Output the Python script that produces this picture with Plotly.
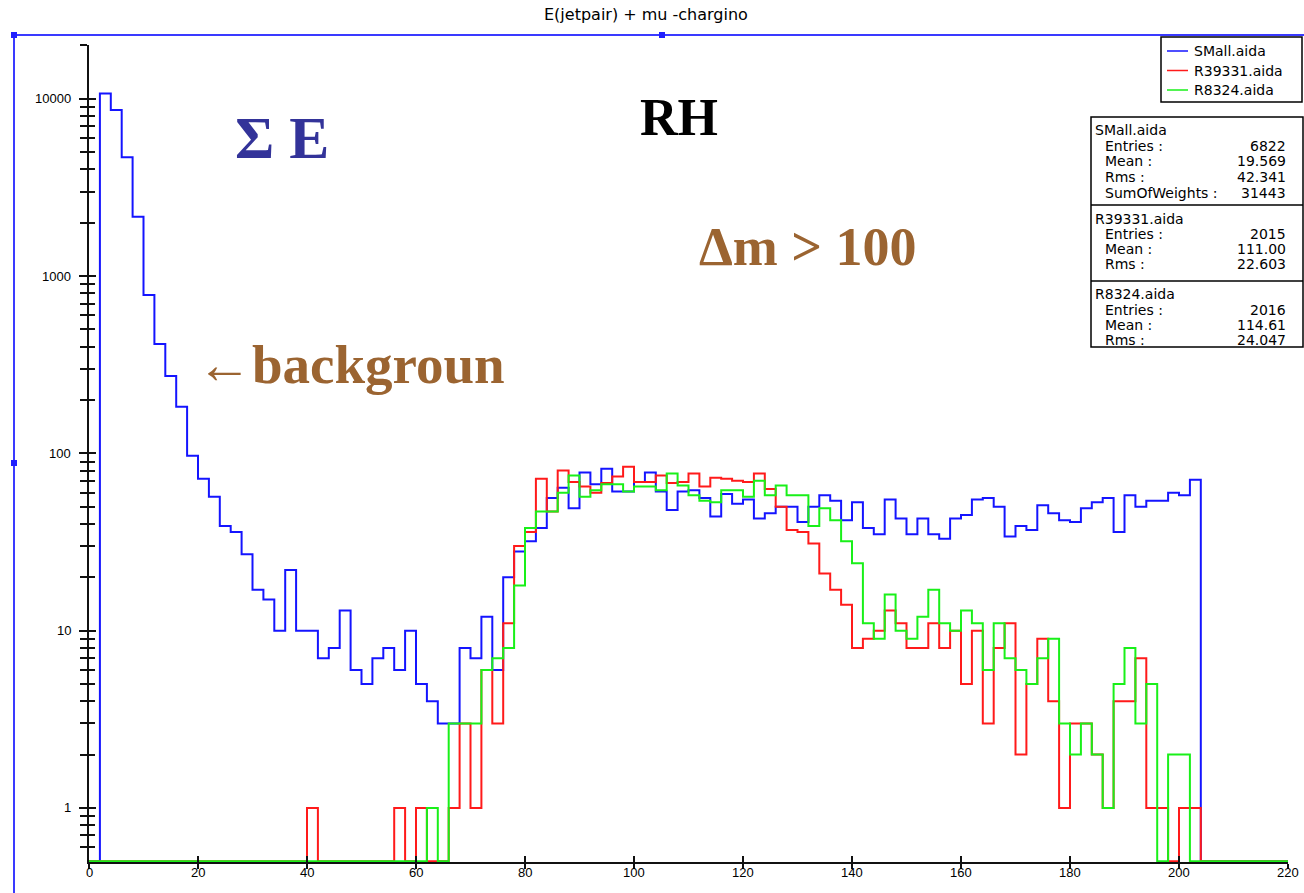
import numpy as np
import plotly.graph_objects as go

# ---- histogram contents: 2-unit bins from 0 to 220 ----
bin_edges = list(range(0, 222, 2))

small_aida = [
    0, 10700, 8650, 4680, 2160, 782, 414, 273, 183, 97,
    72, 57, 39, 36, 27, 17, 15, 10, 22, 10,
    10, 7, 8, 13, 6, 5, 7, 8, 6, 10,
    5, 4, 3, 3, 8, 7, 12, 6, 20, 28,
    32, 38, 56, 64, 49, 78, 67, 82, 61, 61,
    69, 78, 61, 48, 61, 62, 56, 44, 59, 52,
    55, 43, 46, 50, 50, 41, 50, 58, 54, 42,
    53, 38, 35, 55, 43, 35, 43, 35, 33, 43,
    45, 55, 56, 50, 34, 39, 37, 51, 46, 42,
    41, 49, 53, 56, 36, 58, 50, 54, 54, 60,
    58, 71, 0, 0, 0, 0, 0, 0, 0, 0,
]

r39331_aida = [
    0, 0, 0, 0, 0, 0, 0, 0, 0, 0,
    0, 0, 0, 0, 0, 0, 0, 0, 0, 0,
    1, 0, 0, 0, 0, 0, 0, 0, 1, 0,
    1, 0, 0, 1, 3, 1, 6, 3, 11, 30,
    36, 72, 47, 80, 69, 65, 60, 68, 74, 84,
    69, 69, 75, 68, 69, 77, 65, 73, 72, 70,
    69, 77, 63, 50, 37, 36, 31, 21, 17, 14,
    8, 9, 10, 13, 11, 8, 8, 11, 8, 10,
    5, 10, 3, 8, 11, 2, 5, 9, 4, 1,
    3, 3, 2, 1, 4, 4, 7, 1, 1, 0,
    1, 1, 0, 0, 0, 0, 0, 0, 0, 0,
]

r8324_aida = [
    0, 0, 0, 0, 0, 0, 0, 0, 0, 0,
    0, 0, 0, 0, 0, 0, 0, 0, 0, 0,
    0, 0, 0, 0, 0, 0, 0, 0, 0, 0,
    0, 1, 0, 3, 3, 3, 6, 7, 8, 18,
    38, 47, 47, 60, 75, 57, 62, 67, 67, 61,
    65, 65, 62, 77, 66, 58, 54, 53, 62, 62,
    57, 70, 58, 66, 58, 58, 39, 49, 42, 32,
    24, 11, 9, 16, 10, 9, 12, 17, 11, 10,
    13, 11, 6, 11, 7, 6, 5, 7, 9, 3,
    2, 3, 2, 1, 5, 8, 3, 5, 0, 2,
    2, 0, 0, 0, 0, 0, 0, 0, 0, 0,
]

series_names = ["SMall.aida", "R39331.aida", "R8324.aida"]
series_colors = ["#1414ff", "#ff1a1a", "#19f019"]

x_ticks = list(range(0, 221, 20))
x_tick_text = [str(v) for v in x_ticks]
y_ticks = [1, 10, 100, 1000, 10000]
y_tick_text = ["1", "10", "100", "1000", "10000"]
y_minor = [m * 10 ** d for d in range(0, 5) for m in range(2, 10)] + [0.6, 0.7, 0.8, 0.9]

stats_rows = [
    ("SMall.aida", [("Entries :", "6822"), ("Mean :", "19.569"),
                    ("Rms :", "42.341"), ("SumOfWeights :", "31443")]),
    ("R39331.aida", [("Entries :", "2015"), ("Mean :", "111.00"),
                     ("Rms :", "22.603")]),
    ("R8324.aida", [("Entries :", "2016"), ("Mean :", "114.61"),
                    ("Rms :", "24.047")]),
]

# empty bins are drawn along the bottom of the log axis
Y_FLOOR = 0.5
Y_RANGE = [-0.3046, 4.3034]
X_RANGE = [0, 220]

# page geometry (pixels)
FIG_W, FIG_H = 1304, 893
M_L, M_R, M_T, M_B = 89, 16, 45, 31
PLOT_W = FIG_W - M_L - M_R
PLOT_H = FIG_H - M_T - M_B


def px(x):
    return (x - M_L) / PLOT_W


def py(y):
    return (FIG_H - M_B - y) / PLOT_H


def step_values(vals):
    v = np.asarray(vals, dtype=float)
    v = np.where(v > 0, v, Y_FLOOR)
    return np.append(v, v[-1])


fig = go.Figure()
for name, vals, col in zip(series_names, [small_aida, r39331_aida, r8324_aida], series_colors):
    fig.add_trace(go.Scatter(
        x=bin_edges, y=step_values(vals), name=name, mode="lines",
        line=dict(shape="hv", color=col, width=2), showlegend=False,
        hoverinfo="skip",
    ))

# carrier trace for the overlaid inner-tick axes
fig.add_trace(go.Scatter(x=[None], y=[None], xaxis="x2", yaxis="y2",
                         showlegend=False, hoverinfo="skip"))

axis_col = "#111111"
ui_font = "DejaVu Sans, Verdana, sans-serif"
tick_font = dict(family="Liberation Sans, Arial, sans-serif", size=13, color="black")
blank = dict(showline=False, showgrid=False, zeroline=False, automargin=False)

fig.update_layout(
    width=FIG_W, height=FIG_H,
    margin=dict(l=M_L, r=M_R, t=M_T, b=M_B, autoexpand=False),
    paper_bgcolor="white", plot_bgcolor="white",
    font=dict(family="Liberation Sans, Arial, sans-serif", size=12, color="black"),
    showlegend=False,
    # main axes: lines plus outward ticks
    xaxis=dict(range=X_RANGE, tickmode="array", tickvals=x_ticks, automargin=False,
               ticks="outside", ticklen=5, tickwidth=2, tickcolor=axis_col,
               showticklabels=False,
               showline=True, linewidth=2, linecolor=axis_col,
               showgrid=False, zeroline=False, layer="below traces"),
    yaxis=dict(type="log", range=Y_RANGE, tickmode="array", tickvals=y_ticks,
               ticks="outside", ticklen=8, tickwidth=2, automargin=False,
               showticklabels=False,
               tickcolor=axis_col, showline=True, linewidth=2, linecolor=axis_col,
               showgrid=False, zeroline=False, layer="below traces",
               minor=dict(tickmode="array", tickvals=y_minor, ticks="outside",
                          ticklen=7, tickwidth=2, tickcolor=axis_col, showgrid=False)),
    # inward halves of the crossing ticks
    xaxis2=dict(range=X_RANGE, overlaying="x", anchor="y2", side="bottom",
                tickmode="array", tickvals=x_ticks, ticks="inside", ticklen=6,
                tickwidth=2, tickcolor=axis_col, showticklabels=False, **blank),
    yaxis2=dict(type="log", range=Y_RANGE, overlaying="y", anchor="x2", side="left",
                tickmode="array", tickvals=y_ticks, ticks="inside", ticklen=7,
                tickwidth=2, tickcolor=axis_col, showticklabels=False,
                minor=dict(tickmode="array", tickvals=y_minor, ticks="inside",
                           ticklen=6, tickwidth=2, tickcolor=axis_col, showgrid=False),
                **blank),
)

shapes = []
annotations = []

# tick labels placed on the axis scales
for v, t in zip(x_ticks, x_tick_text):
    annotations.append(dict(text=t, xref="x", yref="paper", x=v, y=py(872),
                            xanchor="center", yanchor="middle", showarrow=False,
                            font=tick_font))
for v, t in zip(y_ticks, y_tick_text):
    annotations.append(dict(text=t, xref="paper", yref="y", x=px(73), y=np.log10(v),
                            xanchor="right", yanchor="middle", showarrow=False,
                            font=tick_font))

# selection frame around the region
frame_col = "#3a3aff"
shapes.append(dict(type="line", xref="paper", yref="paper", x0=px(14), x1=px(1304),
                   y0=py(35), y1=py(35), line=dict(color=frame_col, width=2)))
shapes.append(dict(type="line", xref="paper", yref="paper", x0=px(14), x1=px(14),
                   y0=py(35), y1=py(893), line=dict(color=frame_col, width=2)))
for hx, hy in [(14, 35), (662, 35), (14, 463)]:
    shapes.append(dict(type="rect", xref="paper", yref="paper",
                       x0=px(hx - 3), x1=px(hx + 3), y0=py(hy - 3), y1=py(hy + 3),
                       fillcolor="#2020ff", line=dict(width=0)))

# title
annotations.append(dict(text="E(jetpair) + mu -chargino", xref="paper", yref="paper",
                        x=px(646), y=py(15), xanchor="center", yanchor="middle",
                        showarrow=False, font=dict(family=ui_font, size=16)))

# legend box
shapes.append(dict(type="rect", xref="paper", yref="paper", x0=px(1161), x1=px(1302),
                   y0=py(37), y1=py(102), line=dict(color="black", width=1.5),
                   fillcolor="white"))
for i, (name, col) in enumerate(zip(series_names, series_colors)):
    yy = 51 + 19.5 * i
    shapes.append(dict(type="line", xref="paper", yref="paper", x0=px(1167), x1=px(1188),
                       y0=py(yy), y1=py(yy), line=dict(color=col, width=1.5)))
    annotations.append(dict(text=name, xref="paper", yref="paper", x=px(1192), y=py(yy),
                            xanchor="left", yanchor="middle", showarrow=False,
                            font=dict(family=ui_font, size=14)))

# statistics box
box_top, box_bot = 117, 347
shapes.append(dict(type="rect", xref="paper", yref="paper", x0=px(1091), x1=px(1303),
                   y0=py(box_top), y1=py(box_bot), line=dict(color="black", width=1.5),
                   fillcolor="white"))
for sep in [205, 281]:
    shapes.append(dict(type="line", xref="paper", yref="paper", x0=px(1091), x1=px(1303),
                       y0=py(sep), y1=py(sep), line=dict(color="black", width=1.5)))
row_y = {0: [130, 146, 161, 177, 193], 1: [219, 234, 249, 264], 2: [294, 310, 325, 340]}
for bi, (header, rows) in enumerate(stats_rows):
    ys = row_y[bi]
    annotations.append(dict(text=header, xref="paper", yref="paper", x=px(1093), y=py(ys[0]),
                            xanchor="left", yanchor="middle", showarrow=False,
                            font=dict(family=ui_font, size=14)))
    for (lab, val), yy in zip(rows, ys[1:]):
        annotations.append(dict(text=lab, xref="paper", yref="paper", x=px(1103), y=py(yy),
                                xanchor="left", yanchor="middle", showarrow=False,
                                font=dict(family=ui_font, size=14)))
        annotations.append(dict(text=val, xref="paper", yref="paper", x=px(1288), y=py(yy),
                                xanchor="right", yanchor="middle", showarrow=False,
                                font=dict(family=ui_font, size=14)))

# slide labels
serif = "Liberation Serif, Times New Roman, serif"
brown = "#9b6431"
for txt, cx, cy, col, sz in [("<b>\u03a3 E</b>", 282, 138, "#333399", 60),
                             ("<b>RH</b>", 679, 118, "black", 52),
                             ("<b>\u0394m &gt; 100</b>", 808, 247, brown, 54),
                             ("<b>\u2190backgroun</b>", 351, 364, brown, 55)]:
    annotations.append(dict(text=txt, xref="paper", yref="paper", x=px(cx), y=py(cy),
                            xanchor="center", yanchor="middle", showarrow=False,
                            font=dict(family=serif, size=sz, color=col)))

fig.update_layout(shapes=shapes, annotations=annotations)
fig.write_html("out.html")
